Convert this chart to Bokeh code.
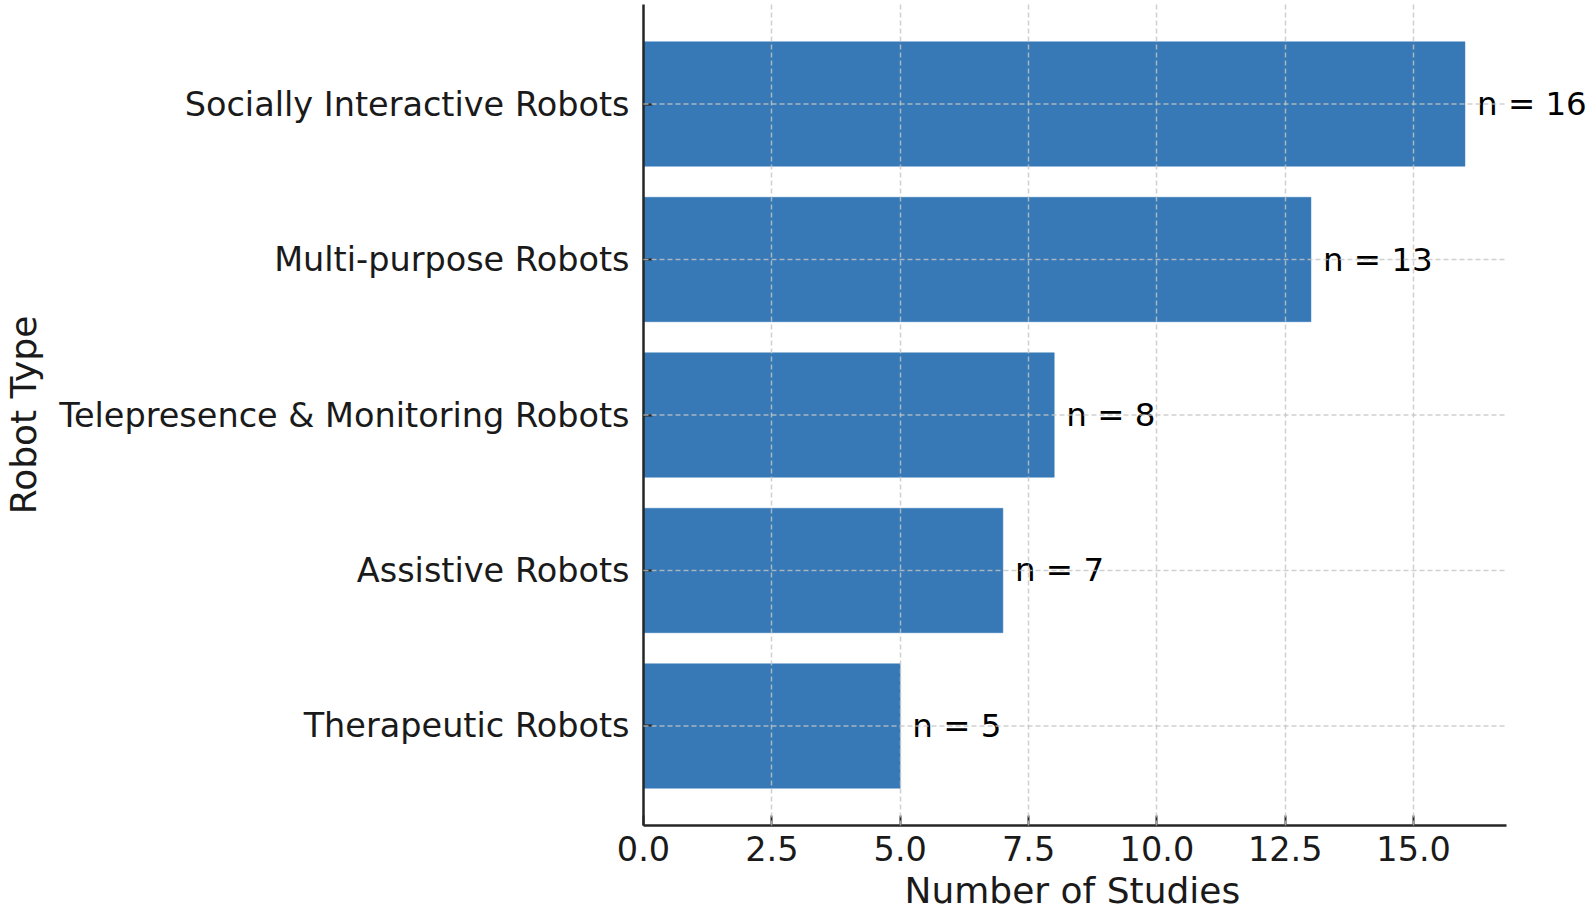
from bokeh.plotting import figure
from bokeh.models import Range1d, FixedTicker, PrintfTickFormatter, ColumnDataSource, LabelSet, Title
from bokeh.core.properties import value
from bokeh.embed import file_html
from bokeh.resources import INLINE

# data (top to bottom in the chart)
categories = ["Socially Interactive Robots", "Multi-purpose Robots",
              "Telepresence & Monitoring Robots", "Assistive Robots", "Therapeutic Robots"]
counts = [16, 13, 8, 7, 5]
x_ticks = [0, 2.5, 5, 7.5, 10, 12.5, 15]
x_axis_max = 16.8
x_label = "Number of Studies"
y_label = "Robot Type"

n = len(categories)
ypos = [n - 1 - i for i in range(n)]
labels = [f"n = {c}" for c in counts]

src = ColumnDataSource(dict(y=ypos, v=counts, lab=labels,
                            x0=[0] * n, x1=[x_axis_max] * n))

FONT = "DejaVu Sans"
W, H = 1591, 914
LEFT, BOTTOM, TOP = 641, 88, 4
PX_X = 51.45          # px per study
y_start, y_stop = -0.64, n - 1 + 0.64
x_end = (W - LEFT) / PX_X

p = figure(width=W, height=H, output_backend="svg", toolbar_location=None,
           x_range=Range1d(0, x_end), y_range=Range1d(y_start, y_stop),
           min_border_left=LEFT, min_border_right=0, min_border_top=TOP, min_border_bottom=BOTTOM)
p.outline_line_color = None
p.background_fill_color = "white"
p.border_fill_color = "white"

p.hbar(y="y", right="v", left=0, height=0.8, source=src,
       fill_color="#3679b6", line_color="#3679b6", line_width=0.5)

# horizontal grid lines (only across the axis extent)
hg = p.segment(x0="x0", x1="x1", y0="y", y1="y", source=src,
               line_color="#c4c4c4", line_alpha=0.8, line_width=1.5, line_dash="5 3")
hg.level = "overlay"

lbl = LabelSet(x="v", y="y", text="lab", source=src, x_offset=12,
               text_baseline="middle", text_align="left",
               text_font=value(FONT), text_font_size="32.5px", text_color="#000000")
p.add_layout(lbl)

# axes
p.xaxis.ticker = FixedTicker(ticks=x_ticks)
p.xaxis.formatter = PrintfTickFormatter(format="%.1f")
p.xaxis.bounds = (0, x_axis_max)
p.yaxis.ticker = FixedTicker(ticks=ypos)
p.yaxis.major_label_overrides = {float(y): c for y, c in zip(ypos, categories)}

for ax in (p.xaxis, p.yaxis):
    ax.axis_line_color = "#262626"
    ax.axis_line_width = 2.5
    ax.major_tick_line_color = "#262626"
    ax.major_tick_line_width = 2
    ax.major_tick_out = 0
    ax.minor_tick_line_color = None
    ax.major_label_text_font = FONT
    ax.major_label_text_font_size = "33.5px"
    ax.major_label_text_color = "#1a1a1a"
    ax.axis_label_text_font = FONT
    ax.axis_label_text_font_size = "36px"
    ax.axis_label_text_font_style = "normal"
    ax.axis_label_text_color = "#1a1a1a"
p.xaxis.major_tick_in = 10
p.yaxis.major_tick_in = 9

p.yaxis.axis_label = y_label
p.xaxis.major_label_standoff = 10
p.yaxis.major_label_standoff = 14
p.yaxis.axis_label_standoff = 12

# x-axis title centred under the axis line (which stops at x_axis_max)
xt = Title(text=x_label, align="left", offset=261, standoff=8,
           text_font=FONT, text_font_size="36px", text_font_style="normal",
           text_color="#1a1a1a")
p.add_layout(xt, "below")

p.ygrid.visible = False
p.xgrid.grid_line_color = "#c4c4c4"
p.xgrid.grid_line_alpha = 0.8
p.xgrid.grid_line_width = 1.5
p.xgrid.grid_line_dash = "5 3"
p.xgrid.level = "overlay"

open("out.html", "w").write(file_html(p, INLINE))
